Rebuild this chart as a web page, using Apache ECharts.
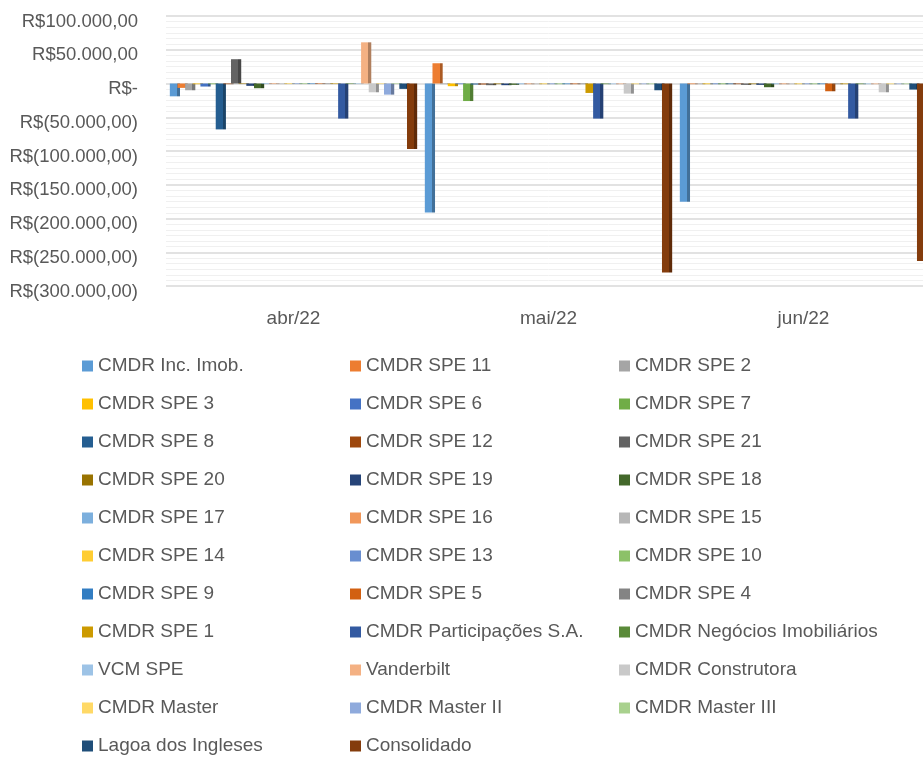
<!DOCTYPE html>
<html>
<head>
<meta charset="utf-8">
<title>Resultado por empresa</title>
<script src="https://cdn.jsdelivr.net/npm/echarts@6/dist/echarts.min.js"></script>
<style>
  html, body { margin: 0; padding: 0; background: #fff; overflow: hidden; }
  /* a área de plotagem do original é cortada na borda direita */
  #chart { width: 931px; height: 758px; }
</style>
</head>
<body>
<div id="chart"></div>
<script>
// meses (categorias do eixo x)
const categories = ["abr/22", "mai/22", "jun/22"];

// empresas, na ordem da legenda
const seriesNames = [
  "CMDR Inc. Imob.", "CMDR SPE 11", "CMDR SPE 2",
  "CMDR SPE 3", "CMDR SPE 6", "CMDR SPE 7",
  "CMDR SPE 8", "CMDR SPE 12", "CMDR SPE 21",
  "CMDR SPE 20", "CMDR SPE 19", "CMDR SPE 18",
  "CMDR SPE 17", "CMDR SPE 16", "CMDR SPE 15",
  "CMDR SPE 14", "CMDR SPE 13", "CMDR SPE 10",
  "CMDR SPE 9", "CMDR SPE 5", "CMDR SPE 4",
  "CMDR SPE 1", "CMDR Participações S.A.", "CMDR Negócios Imobiliários",
  "VCM SPE", "Vanderbilt", "CMDR Construtora",
  "CMDR Master", "CMDR Master II", "CMDR Master III",
  "Lagoa dos Ingleses", "Consolidado"
];

// valores, um array por mês (mesma ordem de seriesNames)
const valuesAbr = [
  -19000, -6500, -10000, -1000, -4500, -1000,
  -68000, -1000, 36000, -800, -3500, -7000,
  -800, -800, -800, -800, -800, -800,
  -800, -800, -800, -800, -52000, -800,
  -800, 61000, -13000, -800, -16500, -800,
  -8000, -97000
];
const valuesMai = [
  -191000, 30000, -1000, -4000, -1000, -26000,
  -1500, -1500, -2500, -1000, -2500, -2000,
  -1000, -1000, -1000, -1000, -1000, -1000,
  -1000, -1000, -1000, -14000, -52000, -1000,
  -1000, -1000, -15000, -1000, -1000, -1000,
  -10000, -280000
];
const valuesJun = [
  -175000, -1000, -1000, -1000, -1000, -1000,
  -1000, -1000, -2000, -1000, -2000, -5500,
  -1000, -1000, -1000, -1000, -1000, -1000,
  -1000, -11500, -1000, -1000, -52000, -1000,
  -1000, -1000, -13000, -1000, -1000, -1000,
  -9000, -263000
];

// paleta padrão do Office
const colors = [
  "#5B9BD5", "#ED7D31", "#A5A5A5", "#FFC000", "#4472C4", "#70AD47",
  "#255E91", "#9E480E", "#636363", "#997300", "#264478", "#43682B",
  "#7CAFDD", "#F1975A", "#B7B7B7", "#FFCD33", "#698ED0", "#8CC168",
  "#327DC2", "#D26012", "#848484", "#CC9A00", "#335AA1", "#5A8A39",
  "#9DC3E6", "#F4B183", "#C9C9C9", "#FFD966", "#8FAADC", "#A9D18E",
  "#1F4E79", "#843C0C"
];

const FONT = "'Liberation Sans', Arial, sans-serif";
const TEXT_COLOR = "#595959";

// escurece a cor para simular a lateral da coluna 3D
function darken(hex, f) {
  const n = parseInt(hex.slice(1), 16);
  const r = Math.round(((n >> 16) & 255) * f);
  const g = Math.round(((n >> 8) & 255) * f);
  const b = Math.round((n & 255) * f);
  return "rgb(" + r + "," + g + "," + b + ")";
}

// formato contábil R$ (pt-BR)
function formatBRL(v) {
  if (v === 0) return "R$-";
  const abs = Math.abs(v).toFixed(2).split(".");
  const inteiro = abs[0].replace(/\B(?=(\d{3})+(?!\d))/g, ".");
  const txt = inteiro + "," + abs[1];
  return v < 0 ? "R$(" + txt + ")" : "R$" + txt;
}

const chart = echarts.init(document.getElementById("chart"));

const series = seriesNames.map((name, i) => ({
  name: name,
  type: "bar",
  data: [valuesAbr[i], valuesMai[i], valuesJun[i]],
  // colunas 3D se sobrepõem um pouco
  barGap: "-25%",
  barCategoryGap: "3%",
  itemStyle: {
    color: new echarts.graphic.LinearGradient(0, 0, 1, 0, [
      { offset: 0, color: colors[i] },
      { offset: 0.7, color: colors[i] },
      { offset: 0.7, color: darken(colors[i], 0.72) },
      { offset: 1, color: darken(colors[i], 0.72) },
    ]),
  },
}));

// legenda em 3 colunas: uma legenda por coluna
const legendLeft = [82, 350, 619];
const legends = legendLeft.map((left, col) => ({
  orient: "vertical",
  left: left,
  top: 356,
  padding: 0,
  icon: "rect",
  itemWidth: 11,
  itemHeight: 11,
  itemGap: 18,
  selectedMode: false,
  textStyle: { fontFamily: FONT, fontSize: 19, color: TEXT_COLOR, lineHeight: 20 },
  data: seriesNames
    .map((name, i) => ({ name: name, itemStyle: { color: colors[i] } }))
    .filter((item, i) => i % 3 === col),
}));

const option = {
  animation: false,
  backgroundColor: "#fff",
  legend: legends,
  grid: {
    left: 166,
    width: 765,
    top: 16,
    height: 270,
  },
  xAxis: {
    type: "category",
    data: categories,
    axisLine: { show: false },
    axisTick: { show: false },
    axisLabel: {
      margin: 23,
      fontFamily: FONT,
      fontSize: 19,
      color: TEXT_COLOR,
    },
  },
  yAxis: {
    type: "value",
    min: -300000,
    max: 100000,
    interval: 50000,
    axisLine: { show: false },
    axisTick: { show: false },
    axisLabel: {
      margin: 28,
      fontFamily: FONT,
      fontSize: 18.5,
      color: TEXT_COLOR,
      // rótulos um pouco abaixo das linhas (plano frontal do 3D)
      verticalAlign: "top",
      lineHeight: 11,
      formatter: formatBRL,
    },
    splitLine: { lineStyle: { color: "#d9d9d9", width: 1.5 } },
    minorTick: { show: false, splitNumber: 6 },
    minorSplitLine: { show: true, lineStyle: { color: "#f0f0f0", width: 1 } },
  },
  series: series,
};

chart.setOption(option);
</script>
</body>
</html>
